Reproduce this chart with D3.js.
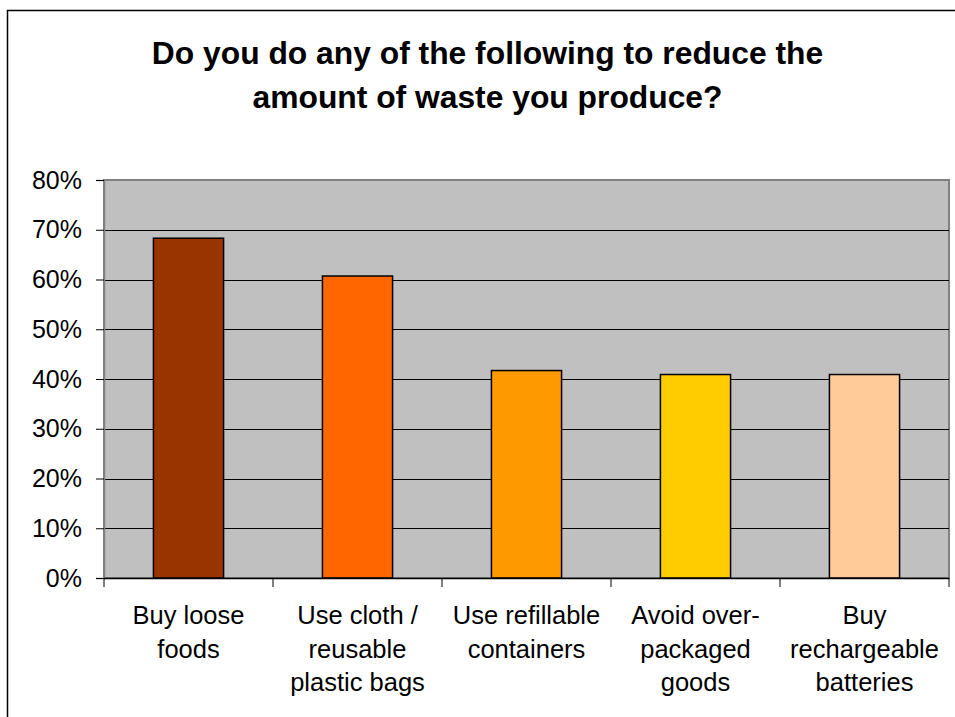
<!DOCTYPE html>
<html>
<head>
<meta charset="utf-8">
<script src="https://cdn.jsdelivr.net/npm/d3@7"></script>
<style>
  html, body { margin: 0; padding: 0; background: #fff; }
  svg { display: block; }
  text { font-family: "Liberation Sans", Arial, sans-serif; fill: #000; }
</style>
</head>
<body>
<script>
// ---- Data ----
const titleLines = ["Do you do any of the following to reduce the", "amount of waste you produce?"];
const categories = [
  "Buy loose\nfoods",
  "Use cloth /\nreusable\nplastic bags",
  "Use refillable\ncontainers",
  "Avoid over-\npackaged\ngoods",
  "Buy\nrechargeable\nbatteries"
];
const values = [0.683, 0.607, 0.417, 0.409, 0.409];
const barColors = ["#993300", "#FF6600", "#FF9900", "#FFCC00", "#FFCC99"];
const yTicks = [0, 0.1, 0.2, 0.3, 0.4, 0.5, 0.6, 0.7, 0.8];

// ---- Layout ----
const W = 955, H = 717;
const plot = { left: 104, top: 180, right: 949, bottom: 578 };

const svg = d3.select("body").append("svg").attr("width", W).attr("height", H);

// outer chart border
svg.append("rect")
  .attr("x", 7.5).attr("y", 10.5)
  .attr("width", W + 10).attr("height", H + 10)
  .attr("fill", "#fff").attr("stroke", "#000").attr("stroke-width", 1.5);

// title
const title = svg.append("text")
  .attr("text-anchor", "middle")
  .attr("font-weight", "bold")
  .attr("font-size", 31.8);
titleLines.forEach((t, i) => {
  title.append("tspan").attr("x", 487.5).attr("y", 64 + i * 44).text(t);
});

const x = d3.scaleBand()
  .domain(categories)
  .range([plot.left, plot.right])
  .paddingInner(0.585)
  .paddingOuter(0.2925);

const xCat = d3.scaleBand().domain(categories).range([plot.left, plot.right]);

const y = d3.scaleLinear().domain([0, 0.8]).range([plot.bottom, plot.top]);

// plot area background
svg.append("rect")
  .attr("x", plot.left).attr("y", plot.top)
  .attr("width", plot.right - plot.left).attr("height", plot.bottom - plot.top)
  .attr("fill", "#C0C0C0").attr("stroke", "#808080").attr("stroke-width", 2);

// gridlines
svg.append("g").selectAll("line")
  .data(yTicks.filter(d => d > 0 && d < 0.8))
  .join("line")
  .attr("x1", plot.left).attr("x2", plot.right)
  .attr("y1", d => Math.round(y(d)) + 0.5).attr("y2", d => Math.round(y(d)) + 0.5)
  .attr("stroke", "#000").attr("stroke-width", 1);

// bars
svg.append("g").selectAll("rect")
  .data(values)
  .join("rect")
  .attr("x", (d, i) => x(categories[i]))
  .attr("y", d => y(d))
  .attr("width", x.bandwidth())
  .attr("height", d => plot.bottom - y(d))
  .attr("fill", (d, i) => barColors[i])
  .attr("stroke", "#000").attr("stroke-width", 1.5);

// y axis
const yAxis = d3.axisLeft(y)
  .tickValues(yTicks)
  .tickFormat(d3.format(".0%"))
  .tickSize(8)
  .tickPadding(14);
const gy = svg.append("g").attr("transform", `translate(${plot.left},0)`).call(yAxis);
gy.select(".domain").attr("stroke", "#808080").attr("stroke-width", 1.5);
gy.selectAll(".tick line").attr("stroke", "#000");
gy.selectAll(".tick text")
  .attr("font-size", 25)
  .attr("font-family", "'Liberation Sans', Arial, sans-serif")
  .attr("fill", "#000");

// x axis line
svg.append("line")
  .attr("x1", plot.left).attr("x2", plot.right)
  .attr("y1", plot.bottom + 0.5).attr("y2", plot.bottom + 0.5)
  .attr("stroke", "#000").attr("stroke-width", 1.5);

// x ticks at category boundaries
const boundaries = categories.map(c => xCat(c)).concat([plot.right]);
svg.append("g").selectAll("line")
  .data(boundaries)
  .join("line")
  .attr("x1", d => d).attr("x2", d => d)
  .attr("y1", plot.bottom).attr("y2", plot.bottom + 9)
  .attr("stroke", "#000").attr("stroke-width", 1);

// category labels
const labels = svg.append("g").selectAll("text")
  .data(categories)
  .join("text")
  .attr("text-anchor", "middle")
  .attr("font-size", 25.5);
labels.each(function(c) {
  const cx = xCat(c) + xCat.bandwidth() / 2;
  c.split("\n").forEach((line, i) => {
    d3.select(this).append("tspan")
      .attr("x", cx)
      .attr("y", 624 + i * 33.5)
      .text(line);
  });
});
</script>
</body>
</html>
